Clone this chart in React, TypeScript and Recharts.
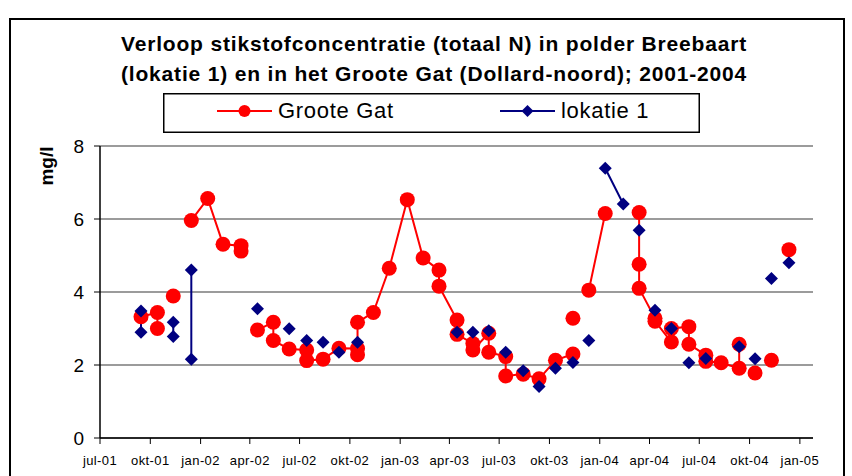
import React from "react";
import { LineChart, Line, XAxis, YAxis, CartesianGrid, Legend, Label } from "recharts";

const FONT = "'Liberation Sans', Arial, sans-serif";

const titleLines = [
  "Verloop stikstofconcentratie (totaal N) in polder Breebaart",
  "(lokatie 1) en in het Groote Gat (Dollard-noord); 2001-2004",
];
const yLabel = "mg/l";
const seriesNames = ["Groote Gat", "lokatie 1"];

const tickDates = [
  "2001-07-01", "2001-10-01", "2002-01-01", "2002-04-01", "2002-07-01",
  "2002-10-01", "2003-01-01", "2003-04-01", "2003-07-01", "2003-10-01",
  "2004-01-01", "2004-04-01", "2004-07-01", "2004-10-01", "2005-01-01",
];
const tickLabels = [
  "jul-01", "okt-01", "jan-02", "apr-02", "jul-02", "okt-02", "jan-03", "apr-03",
  "jul-03", "okt-03", "jan-04", "apr-04", "jul-04", "okt-04", "jan-05",
];
const yTicks = [0, 2, 4, 6, 8];

// Groote Gat: each inner array is one connected run of samples
const ggDates = [
  ["2001-09-14", "2001-10-14", "2001-10-14"],
  ["2001-11-12"],
  ["2001-12-15", "2002-01-14", "2002-02-11", "2002-03-16", "2002-03-16"],
  [
    "2002-04-15", "2002-05-14", "2002-05-14", "2002-06-12", "2002-07-14", "2002-07-14",
    "2002-08-13", "2002-09-11", "2002-10-15", "2002-10-15", "2002-10-15", "2002-11-13",
    "2002-12-12", "2003-01-14", "2003-02-12", "2003-03-13", "2003-03-13", "2003-04-15",
    "2003-04-15", "2003-05-14", "2003-05-14", "2003-06-12", "2003-06-12", "2003-07-13",
    "2003-07-13", "2003-08-14", "2003-09-12", "2003-10-12", "2003-11-13",
  ],
  ["2003-11-13"],
  ["2003-12-12", "2004-01-11"],
  [
    "2004-03-13", "2004-03-13", "2004-03-13", "2004-04-11", "2004-04-11", "2004-05-11",
    "2004-05-11", "2004-06-12", "2004-06-12", "2004-07-13", "2004-07-13", "2004-08-10",
    "2004-09-12", "2004-09-12",
  ],
  ["2004-10-11"],
  ["2004-11-10"],
  ["2004-12-12"],
];
const ggValues = [
  [3.32, 3.44, 3.0],
  [3.89],
  [5.96, 6.56, 5.31, 5.27, 5.12],
  [
    2.96, 3.17, 2.67, 2.44, 2.41, 2.12,
    2.16, 2.46, 2.45, 2.28, 3.17, 3.44,
    4.65, 6.53, 4.93, 4.6, 4.16, 3.23,
    2.84, 2.59, 2.41, 2.87, 2.35, 2.23,
    1.7, 1.75, 1.62, 2.13, 2.3,
  ],
  [3.28],
  [4.05, 6.15],
  [
    6.18, 4.76, 4.1, 3.28, 3.2, 2.63,
    3.0, 3.05, 2.57, 2.27, 2.1, 2.06,
    1.91, 2.57,
  ],
  [1.78],
  [2.13],
  [5.16],
];

// lokatie 1
const lokDates = [
  ["2001-09-14", "2001-09-14"],
  ["2001-11-12", "2001-11-12"],
  ["2001-12-15", "2001-12-15"],
  ["2002-04-15"], ["2002-06-12"], ["2002-07-14"], ["2002-08-13"], ["2002-09-11"],
  ["2002-10-15"], ["2003-04-15"], ["2003-05-14"], ["2003-06-12"], ["2003-07-13"],
  ["2003-08-14"], ["2003-09-12"], ["2003-10-12"], ["2003-11-13"], ["2003-12-12"],
  ["2004-01-11", "2004-02-13"],
  ["2004-03-13"], ["2004-04-11"], ["2004-05-11"], ["2004-06-12"], ["2004-07-13"],
  ["2004-09-12"], ["2004-10-11"], ["2004-11-10"], ["2004-12-12"],
];
const lokValues = [
  [3.48, 2.9],
  [3.17, 2.78],
  [4.6, 2.16],
  [3.54], [2.99], [2.67], [2.62], [2.35],
  [2.62], [2.9], [2.9], [2.94], [2.35],
  [1.84], [1.41], [1.91], [2.07], [2.67],
  [7.39, 6.41],
  [5.69], [3.5], [3.0], [2.06], [2.18],
  [2.5], [2.17], [4.37], [4.8],
];

const toDay = (s: string) => {
  const [y, m, d] = s.split("-").map(Number);
  return Date.UTC(y, m - 1, d) / 86400000;
};

// runs are joined with an empty row so the line breaks between them
const buildRows = (dates: string[][], values: number[][]) => {
  const rows: { t: number; v: number | null }[] = [];
  dates.forEach((run, i) => {
    if (i > 0) rows.push({ t: toDay(run[0]), v: null });
    run.forEach((d, j) => rows.push({ t: toDay(d), v: values[i][j] }));
  });
  return rows;
};

const ggData = buildRows(ggDates, ggValues);
const lokData = buildRows(lokDates, lokValues);
const tickDays = tickDates.map(toDay);

const RED = "#FF0000";
const NAVY = "#000080";

const Diamond = (props: any) => {
  const { cx, cy, index } = props;
  if (cx == null || cy == null) return <g key={`d-${index}`} />;
  const s = 6.5;
  return (
    <polygon
      key={`d-${index}`}
      points={`${cx},${cy - s} ${cx + s},${cy} ${cx},${cy + s} ${cx - s},${cy}`}
      fill={NAVY}
    />
  );
};

const renderLegend = (props: any) => {
  const payload = props.payload && props.payload.length ? props.payload : seriesNames.map((n) => ({ value: n }));
  return (
    <svg width={537} height={40} style={{ display: "block" }}>
      <rect x={0.75} y={0.75} width={535.5} height={38.5} fill="#fff" stroke="#000" strokeWidth={1.5} />
      {payload.map((p: any, i: number) => {
        const x0 = i === 0 ? 54 : 337;
        const color = i === 0 ? RED : NAVY;
        const mx = x0 + 27.5;
        return (
          <g key={p.value}>
            <line x1={x0} y1={18} x2={x0 + 55} y2={18} stroke={color} strokeWidth={2} />
            {i === 0 ? (
              <circle cx={mx} cy={18} r={6} fill={RED} />
            ) : (
              <polygon points={`${mx},${12} ${mx + 6},${18} ${mx},${24} ${mx - 6},${18}`} fill={NAVY} />
            )}
            <text x={x0 + 61} y={25} fontSize={22} fontFamily={FONT} letterSpacing={0.7} fill="#000">
              {p.value}
            </text>
          </g>
        );
      })}
    </svg>
  );
};

export default function App() {
  return (
    <div style={{ position: "absolute", left: 0, top: 0, width: 852, height: 476, background: "#fff", overflow: "hidden", fontFamily: FONT }}>
      <div
        style={{
          position: "absolute",
          left: 9,
          top: 18,
          width: 836,
          height: 470,
          border: "2px solid #000",
          boxSizing: "border-box",
        }}
      />
      <div
        style={{
          position: "absolute",
          left: 0,
          top: 29,
          width: 868,
          textAlign: "center",
          fontSize: 21,
          fontWeight: "bold",
          lineHeight: "30px",
          letterSpacing: 0.82,
          color: "#000",
        }}
      >
        {titleLines.map((l) => (
          <div key={l}>{l}</div>
        ))}
      </div>
      <LineChart
        width={852}
        height={476}
        margin={{ top: 146, right: 39, left: 40, bottom: 8 }}
        style={{ position: "absolute", left: 0, top: 0 }}
      >
        <CartesianGrid vertical={false} stroke="#7a7a7a" strokeWidth={1.5} />
        <XAxis
          type="number"
          dataKey="t"
          domain={[toDay("2001-07-01"), toDay("2005-01-25")]}
          ticks={tickDays}
          tickFormatter={(v: number) => tickLabels[tickDays.indexOf(v)]}
          interval={0}
          allowDataOverflow
          height={30}
          tickSize={6}
          tickMargin={12}
          axisLine={{ stroke: "#000", strokeWidth: 1.5 }}
          tickLine={{ stroke: "#000" }}
          tick={{ fontSize: 13, fill: "#000", fontFamily: FONT, letterSpacing: 0.4 }}
        />
        <YAxis
          type="number"
          domain={[0, 8]}
          ticks={yTicks}
          interval={0}
          width={60}
          tickSize={6}
          tickMargin={10}
          axisLine={{ stroke: "#000", strokeWidth: 1.5 }}
          tickLine={{ stroke: "#000" }}
          tick={{ fontSize: 19, fill: "#000", fontFamily: FONT }}
        >
          <Label
            content={() => (
              <text
                x={46}
                y={166}
                transform="rotate(-90 46 166)"
                textAnchor="middle"
                dominantBaseline="central"
                fontSize={19}
                fontWeight="bold"
                fontFamily={FONT}
                fill="#000"
              >
                {yLabel}
              </text>
            )}
          />
        </YAxis>
        <Legend
          verticalAlign="middle"
          align="center"
          layout="horizontal"
          content={renderLegend}
          wrapperStyle={{ position: "absolute", left: 163, top: 93, width: 537, height: 40 }}
        />
        <Line
          name={seriesNames[0]}
          data={ggData}
          dataKey="v"
          stroke={RED}
          strokeWidth={2}
          dot={{ r: 7.5, fill: RED, stroke: RED, strokeWidth: 0 }}
          activeDot={false}
          isAnimationActive={false}
        />
        <Line
          name={seriesNames[1]}
          data={lokData}
          dataKey="v"
          stroke={NAVY}
          strokeWidth={2}
          dot={Diamond}
          activeDot={false}
          isAnimationActive={false}
        />
      </LineChart>
    </div>
  );
}
